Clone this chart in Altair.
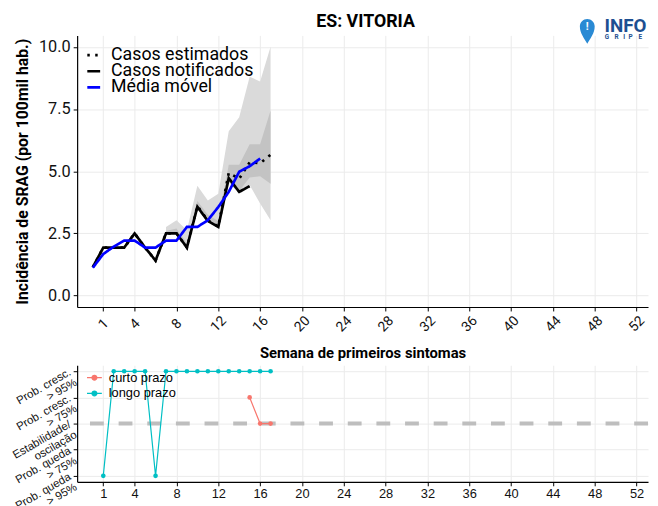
import altair as alt
import pandas as pd

# ---------------- data ----------------
semanas_notif = list(range(0, 16))
casos_notificados = [1.14, 1.93, 1.93, 1.93, 2.50, 1.93, 1.41, 2.50, 2.50, 1.93,
                     3.57, 3.00, 2.76, 4.72, 4.17, 4.40]
semanas_est = list(range(0, 18))
casos_estimados = [1.14, 1.93, 1.93, 1.93, 2.50, 1.93, 1.41, 2.50, 2.50, 1.93,
                   3.60, 3.02, 2.78, 4.93, 4.70, 5.36, 5.32, 5.66]
semanas_mm = list(range(0, 17))
media_movel = [1.12, 1.67, 1.97, 2.21, 2.21, 1.93, 1.93, 2.21, 2.21, 2.76,
               2.76, 3.03, 3.56, 4.17, 4.98, 5.20, 5.51]

semanas_ic = list(range(7, 18))
ic95_inf = [2.50, 2.50, 1.85, 3.50, 2.95, 2.72, 4.55, 4.09, 4.45, 3.70, 3.03]
ic95_sup = [2.76, 3.03, 2.63, 4.42, 3.82, 4.09, 6.61, 7.17, 8.80, 8.61, 10.0]
ic50_inf = [2.50, 2.50, 1.90, 3.56, 2.98, 2.74, 4.62, 4.20, 4.75, 4.80, 4.50]
ic50_sup = [2.60, 2.70, 2.10, 3.80, 3.25, 3.00, 5.26, 5.26, 6.08, 6.08, 7.44]

series = ["Casos estimados", "Casos notificados", "Média móvel"]
cores_series = ["black", "black", "#0000ff"]
tracos_series = [[2.5, 5.5], [1, 0], [1, 0]]

semanas_longo = list(range(1, 18))
longo_prazo = [-2, 2, 2, 2, 2, -2, 2, 2, 2, 2, 2, 2, 2, 2, 2, 2, 2]
semanas_curto = [15, 16, 17]
curto_prazo = [1, 0, 0]
prazos = ["curto prazo", "longo prazo"]
cores_prazo = ["#F8766D", "#00BFC4"]

x_ticks = [1, 4, 8, 12, 16, 20, 24, 28, 32, 36, 40, 44, 48, 52]
y_ticks = [0, 2.5, 5, 7.5, 10]
niveis = [2, 1, 0, -1, -2]
niveis_rotulos = [["Prob. cresc.", "> 95%"], ["Prob. cresc.", "> 75%"],
                  ["Estabilidade/", "oscilação"], ["Prob. queda", "> 75%"],
                  ["Prob. queda", "> 95%"]]

titulo = "ES: VITORIA"
y_titulo = "Incidência de SRAG (por 100mil hab.)"
x_titulo = "Semana de primeiros sintomas"
logo_info = "INFO"
logo_gripe = list("GRIPE")
logo_gripe_px = [534.3, 544, 553, 558.3, 568.3]

# ---------------- tables ----------------
linhas = pd.concat([
    pd.DataFrame({"semana": semanas_est, "valor": casos_estimados, "serie": series[0]}),
    pd.DataFrame({"semana": semanas_notif, "valor": casos_notificados, "serie": series[1]}),
    pd.DataFrame({"semana": semanas_mm, "valor": media_movel, "serie": series[2]}),
], ignore_index=True)
bandas = pd.DataFrame({"semana": semanas_ic, "lo95": ic95_inf, "hi95": ic95_sup,
                       "lo50": ic50_inf, "hi50": ic50_sup})
tend = pd.concat([
    pd.DataFrame({"semana": semanas_curto, "nivel": curto_prazo, "prazo": prazos[0]}),
    pd.DataFrame({"semana": semanas_longo, "nivel": longo_prazo, "prazo": prazos[1]}),
], ignore_index=True)
legenda = pd.DataFrame({"serie": series})

W = 578
H_TOP = 275
H_BOT = 118
X_DOMAIN = [-1.5, 53.1]
xscale = alt.Scale(domain=X_DOMAIN, nice=False, zero=False)
yscale_top = alt.Scale(domain=[-0.46, 10.46], nice=False, zero=False)

FONT = "Roboto"
FONT2 = "Liberation Sans"

common_axis = dict(grid=True, gridColor="#ebebeb", gridWidth=1, domainColor="black",
                   domainWidth=1.2, tickColor="black", tickSize=4, tickWidth=1,
                   labelColor="#111111", titleColor="black", labelOverlap=False)

x_top = alt.X("semana:Q", scale=xscale,
              axis=alt.Axis(values=x_ticks, title=x_titulo, labelAngle=315,
                            labelAlign="center", labelBaseline="middle", labelPadding=13,
                            labelFont=FONT, labelFontSize=14, titleFont=FONT,
                            titleFontSize=15, titleFontWeight="bold", titlePadding=12,
                            **common_axis))
top_y_axis = alt.Axis(values=y_ticks, format=".1f", title=y_titulo,
                      labelFont=FONT, labelFontSize=16.5, titleFont=FONT,
                      titleFontSize=16, titleFontWeight="bold", titlePadding=8,
                      labelPadding=3, **common_axis)
y_top = alt.Y("valor:Q", scale=yscale_top, axis=top_y_axis)

band95 = alt.Chart(bandas).mark_area(color="#dadada", opacity=1).encode(
    x=x_top, y=alt.Y("lo95:Q", scale=yscale_top, axis=top_y_axis), y2="hi95:Q")
band50 = alt.Chart(bandas).mark_area(color="#c3c3c3", opacity=1).encode(
    x=x_top, y=alt.Y("lo50:Q", scale=yscale_top, axis=top_y_axis), y2="hi50:Q")

cor_serie = alt.Color("serie:N", scale=alt.Scale(domain=series, range=cores_series), legend=None)
traco_serie = alt.StrokeDash("serie:N", scale=alt.Scale(domain=series, range=tracos_series),
                             legend=None)
lines = alt.Chart(linhas).mark_line(strokeWidth=2.7, strokeCap="butt").encode(
    x=x_top, y=y_top, color=cor_serie, strokeDash=traco_serie)

dados_top = alt.layer(band95, band50, lines)

# legend of the top panel (one row per series, placed by a point scale)
leg_y = alt.Y("serie:N", scale=alt.Scale(type="point", domain=series, range=[20.0, 52.6],
                                         padding=0), axis=None)
leg_rule = alt.Chart(legenda).mark_rule(strokeWidth=2.7, strokeCap="butt").encode(
    x=alt.value(10.3), x2=alt.value(23.3), y=leg_y, color=cor_serie, strokeDash=traco_serie)
leg_text = alt.Chart(legenda).mark_text(align="left", baseline="middle", font=FONT,
                                        fontSize=18, color="black").encode(
    x=alt.value(34.3), y=leg_y, text="serie:N")
legenda_top = alt.layer(leg_rule, leg_text)

# title and logo (decorations)
title_mark = alt.Chart().mark_text(text=titulo, font=FONT, fontSize=18, fontWeight="bold",
                                   align="center", baseline="alphabetic", color="black").encode(
    x=alt.value(292), y=alt.value(-8.3))
pin_path = "M0,1C-0.25,0.55,-0.6,0.15,-0.6,-0.4A0.6,0.6,0,1,1,0.6,-0.4C0.6,0.15,0.25,0.55,0,1Z"
pin = alt.Chart().mark_point(shape=pin_path, size=625, filled=True, color="#2a8ad4",
                             opacity=1).encode(x=alt.value(516.5), y=alt.value(-4))
pin_mark = alt.Chart().mark_text(text="!", font=FONT, fontSize=11, fontWeight="bold",
                                 color="white", align="center", baseline="middle").encode(
    x=alt.value(516.5), y=alt.value(-8))
info = alt.Chart().mark_text(text=logo_info, font=FONT, fontSize=19, fontWeight="bold",
                             color="#1d4f91", align="left", baseline="alphabetic").encode(
    x=alt.value(534), y=alt.value(-3))
gripe_df = pd.DataFrame({"letra": logo_gripe, "px": logo_gripe_px})
gripe = alt.Chart(gripe_df).mark_text(font=FONT, fontSize=6.5, fontWeight="bold",
                                      color="#1d4f91", align="left", baseline="alphabetic").encode(
    x=alt.X("px:Q", scale=None), y=alt.value(4), text="letra:N")

top = alt.layer(dados_top, legenda_top, title_mark, pin, pin_mark, info, gripe).resolve_scale(
    y="independent").properties(width=W, height=H_TOP)

# ---------------- bottom chart ----------------
label_expr = ""
for v, lab in zip(niveis, niveis_rotulos):
    label_expr += f"datum.value == {v} ? {lab!r} : "
label_expr += "''"

x_bot = alt.X("semana:Q", scale=xscale,
              axis=alt.Axis(values=x_ticks, title=None, labelAngle=0, labelFont=FONT2,
                            labelFontSize=13, labelPadding=2, **common_axis))
y_bot = alt.Y("nivel:Q", scale=alt.Scale(domain=[-2.23, 2.23], nice=False, zero=False),
              axis=alt.Axis(values=niveis, labelExpr=label_expr, title=None,
                            labelAngle=330, labelAlign="right", labelBaseline="middle",
                            labelFont=FONT2, labelFontSize=11.5, labelLineHeight=12,
                            labelPadding=3.5, **common_axis))

regra = alt.Chart(pd.DataFrame({"nivel": [0]})).mark_rule(
    color="#bebebe", strokeWidth=4, strokeDash=[14, 15]).encode(y=y_bot)

legend_bot = alt.Legend(title=None, orient="none", legendX=9, legendY=4,
                        labelFont=FONT2, labelFontSize=13, labelColor="black",
                        symbolType="M-1,0H1M0.32,0A0.32,0.32,0,1,1,-0.32,0A0.32,0.32,0,1,1,0.32,0Z",
                        symbolSize=225, symbolStrokeWidth=1.3, padding=0, rowPadding=0,
                        labelOffset=6)
cor = alt.Color("prazo:N", scale=alt.Scale(domain=prazos, range=cores_prazo), legend=legend_bot)
tl = alt.Chart(tend).mark_line(strokeWidth=1.2).encode(x=x_bot, y=y_bot, color=cor)
tp = alt.Chart(tend).mark_point(filled=True, size=22, opacity=1).encode(x=x_bot, y=y_bot, color=cor)

bottom = alt.layer(regra, tl, tp).properties(width=W, height=H_BOT)

chart = alt.vconcat(top, bottom, spacing=4).resolve_scale(
    y="independent", color="independent", strokeDash="independent"
).properties(padding={"left": 2, "top": 1.5, "right": 0, "bottom": 4}).configure_view(stroke=None)

chart.save("out.html", embed_options={"renderer": "svg", "actions": False})
